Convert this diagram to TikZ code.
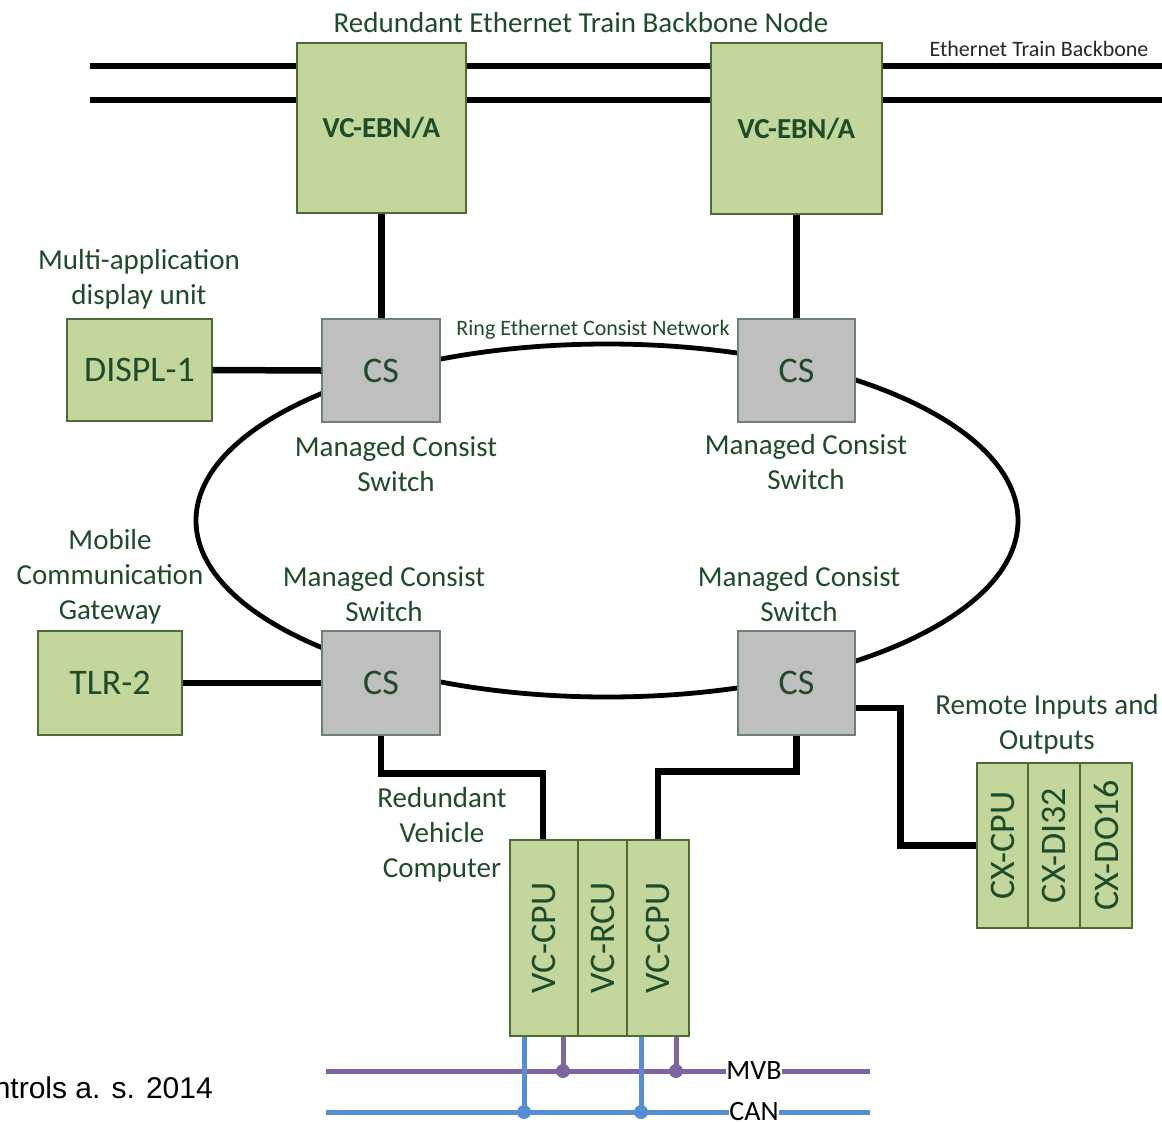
\documentclass[tikz,border=0pt]{standalone}
\usepackage{fontspec}
\setmainfont{Carlito}
\newfontfamily\arialfont{Liberation Sans}
\usetikzlibrary{calc}
\definecolor{boxgreen}{HTML}{C3D69B}
\definecolor{boxedge}{HTML}{4F6B35}
\definecolor{txtgreen}{HTML}{1E4B2A}
\definecolor{csgray}{HTML}{BFBFBF}
\definecolor{csedge}{HTML}{6E8270}
\definecolor{mvbcol}{HTML}{8064A2}
\definecolor{cancol}{HTML}{558ED5}
\tikzset{
  gbox/.style={draw=boxedge,line width=1.2pt,fill=boxgreen,inner sep=0pt,text=txtgreen},
  csbox/.style={draw=csedge,line width=1.2pt,fill=csgray,inner sep=0pt,text=txtgreen,font=\fontsize{36}{40}\selectfont},
  lbl/.style={text=txtgreen,align=center,font=\fontsize{29}{35}\selectfont,inner sep=0pt},
  smalllbl/.style={inner sep=0pt,font=\fontsize{22}{26}\selectfont},
  wire/.style={line width=6.5pt,black},
  ring/.style={line width=4.8pt,black},
  mvb/.style={line width=5pt,mvbcol},
  can/.style={line width=5pt,cancol},
  buslbl/.style={fill=white,inner sep=0pt,font=\fontsize{28}{32}\selectfont,text=black},
}
\begin{document}
\begin{tikzpicture}[x=1pt,y=-1pt]
\useasboundingbox (0,0) rectangle (1162,1122);
% ring
\draw[ring] (607,520.5) ellipse [x radius=411, y radius=176.5];
% EBN boxes
\node[gbox,minimum width=169pt,minimum height=170pt,font=\bfseries\fontsize{29}{34}\selectfont] (ebnL) at (381.5,128) {VC-EBN/A};
\node[gbox,minimum width=171pt,minimum height=171pt,font=\bfseries\fontsize{29}{34}\selectfont] (ebnR) at (796.5,128.5) {VC-EBN/A};
\node[lbl] (ttl) at (581,23) {Redundant Ethernet Train Backbone Node};
\node[smalllbl,text=black!85] (etb) at (1039,49) {Ethernet Train Backbone};
% backbone
\coordinate (bbA) at (90,66);
\coordinate (bbB) at (90,100);
\coordinate (bbC) at (1162,66);
\coordinate (bbD) at (1162,100);
\draw[wire] (bbA) -- (bbA -| ebnL.west);
\draw[wire] (bbB) -- (bbB -| ebnL.west);
\draw[wire] (bbA -| ebnL.east) -- (bbA -| ebnR.west);
\draw[wire] (bbB -| ebnL.east) -- (bbB -| ebnR.west);
\draw[wire] (bbC -| ebnR.east) -- (bbC);
\draw[wire] (bbD -| ebnR.east) -- (bbD);
% CS boxes
\node[csbox,minimum width=118pt,minimum height=103pt] (csTL) at (381,370.5) {CS};
\node[csbox,minimum width=117pt,minimum height=103pt] (csTR) at (796.5,370.5) {CS};
\node[csbox,minimum width=118pt,minimum height=104pt] (csBL) at (381,683) {CS};
\node[csbox,minimum width=117pt,minimum height=104pt] (csBR) at (796.5,683) {CS};
\draw[wire] (ebnL.south) -- (ebnL.south |- csTL.north);
\draw[wire] (ebnR.south) -- (ebnR.south |- csTR.north);
\node[smalllbl,text=txtgreen] (ring) at (593,330) {Ring Ethernet Consist Network};
% CS labels
\node[lbl] (mcs1) at (396,464.5) {Managed Consist\\Switch};
\node[lbl] (mcs2) at (806,462.5) {Managed Consist\\Switch};
\node[lbl] (mcs3) at (384,594.5) {Managed Consist\\Switch};
\node[lbl] (mcs4) at (799,594.5) {Managed Consist\\Switch};
% DISPL
\node[gbox,minimum width=145pt,minimum height=102pt,font=\fontsize{36}{40}\selectfont] (displ) at (139.5,370) {DISPL-1};
\node[lbl] (displlbl) at (139,279.5) {Multi-application\\display unit};
\draw[wire] (displ.east) -- (csTL.west);
% TLR
\node[gbox,minimum width=144pt,minimum height=104pt,font=\fontsize{36}{40}\selectfont] (tlr) at (110,683) {TLR-2};
\node[lbl] (tlrlbl) at (110,576.5) {Mobile\\Communication\\Gateway};
\draw[wire] (tlr.east) -- (csBL.west);
% VC
\node[gbox,minimum width=68pt,minimum height=196pt,font=\fontsize{36}{40}\selectfont] (vc1) at (544,938) {\rotatebox{90}{VC-CPU}};
\node[gbox,minimum width=49pt,minimum height=196pt,font=\fontsize{36}{40}\selectfont] (vc2) at (602.5,938) {\rotatebox{90}{VC-RCU}};
\node[gbox,minimum width=62pt,minimum height=196pt,font=\fontsize{36}{40}\selectfont] (vc3) at (658,938) {\rotatebox{90}{VC-CPU}};
\node[lbl] (vclbl) at (442,835) {Redundant\\Vehicle\\Computer};
\draw[wire,line join=miter] (csBL.south) -- ++(0,38) -| ([xshift=-1pt]vc1.north);
\draw[wire,line join=miter] (csBR.south) -- ++(0,36) -| (vc3.north);
% CX
\node[gbox,minimum width=51pt,minimum height=165pt,font=\fontsize{36}{40}\selectfont] (cx1) at (1002.5,845.5) {\rotatebox{90}{CX-CPU}};
\node[gbox,minimum width=52pt,minimum height=165pt,font=\fontsize{36}{40}\selectfont] (cx2) at (1054,845.5) {\rotatebox{90}{CX-DI32}};
\node[gbox,minimum width=52pt,minimum height=165pt,font=\fontsize{36}{40}\selectfont] (cx3) at (1106,845.5) {\rotatebox{90}{CX-DO16}};
\node[lbl] (cxlbl) at (1047,724.5) {Remote Inputs and\\Outputs};
\draw[wire,line join=miter] ([yshift=-25pt]csBR.east) -- ++(45,0) |- (cx1.west);
% buses
\coordinate (mvbL) at (326,1071);
\coordinate (mvbR) at (870,1071);
\coordinate (canL) at (326,1112);
\coordinate (canR) at (870,1112);
\node[buslbl] (mvblbl) at (754,1071) {MVB};
\node[buslbl] (canlbl) at (754,1111) {CAN};
\draw[mvb] (mvbL) -- (mvblbl.west);
\draw[mvb] (mvblbl.east) -- (mvbR);
\draw[can] (canL) -- (canlbl.west |- canL);
\draw[can] (canlbl.east |- canL) -- (canR);
\draw[can] ([xshift=-20pt]vc1.south) coordinate (c1) -- (c1 |- canL) coordinate (c1e);
\draw[can] ([xshift=-17pt]vc3.south) coordinate (c2) -- (c2 |- canL) coordinate (c2e);
\draw[mvb] ([xshift=19pt]vc1.south) coordinate (m1) -- (m1 |- mvbL) coordinate (m1e);
\draw[mvb] ([xshift=18pt]vc3.south) coordinate (m2) -- (m2 |- mvbL) coordinate (m2e);
\fill[cancol] (c1e) circle (7pt);
\fill[cancol] (c2e) circle (7pt);
\fill[mvbcol] (m1e) circle (7pt);
\fill[mvbcol] (m2e) circle (7pt);
% credit
\node[anchor=east,inner sep=0pt,font=\arialfont\fontsize{30}{34}\selectfont] (credit) at (213,1088) {ntrols a. s. 2014};
\end{tikzpicture}
\end{document}
